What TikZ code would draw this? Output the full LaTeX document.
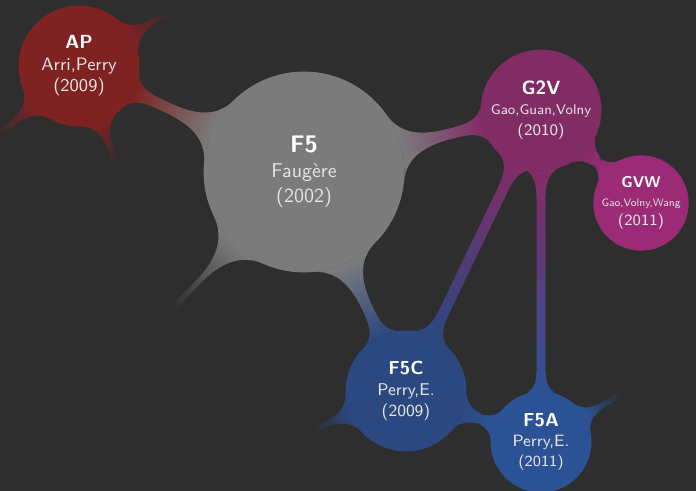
\documentclass[tikz,border=0pt]{standalone}
\usepackage{fontspec}
\usetikzlibrary{mindmap}
\renewcommand{\familydefault}{\sfdefault}

\definecolor{bgc}{HTML}{2E2E2E}
\definecolor{cFfive}{HTML}{7B7B7B}
\definecolor{cAP}{HTML}{7E2222}
\definecolor{cGtwoV}{HTML}{822C66}
\definecolor{cGVW}{HTML}{9B2B76}
\definecolor{cFC}{HTML}{2C4880}
\definecolor{cFA}{HTML}{2C5296}
\colorlet{subtext}{white!90!black}

\pgfdeclarelayer{canvas}
\pgfdeclarelayer{bars}
\pgfsetlayers{canvas,bars,main}

\tikzset{
  bubble/.style={circle, inner sep=0pt, align=center, text=white,
                 fill=#1, draw=#1, line width=0.4pt},
  % unfilled round end point that a bar fades out towards
  loose end/.style={circle, inner sep=0pt, minimum size=30pt},
  bar/.style={line width=4.5pt},
}
% title line and sub line of a bubble
\newcommand{\btitle}[2]{{\fontsize{#1}{#1}\selectfont\bfseries #2}}
\newcommand{\bline}[2]{{\color{subtext}\fontsize{#1}{#1}\selectfont #2}}

\begin{document}
\begin{tikzpicture}[x=0.5pt,y=0.5pt]
  \begin{pgfonlayer}{canvas}
    \fill[bgc] (0,0) rectangle (696,491);
  \end{pgfonlayer}
  \useasboundingbox (0,0) rectangle (696,491);

  % concepts
  \node[bubble=cFfive, minimum size=100pt, font=\fontsize{10}{12.5}\selectfont]
    (F5) at (304,319) {\btitle{12}{F5}\\\bline{10}{Faugère}\\\bline{10}{(2002)}};
  \node[bubble=cAP, minimum size=60pt, font=\fontsize{9}{10.7}\selectfont]
    (AP) at (79,425) {\btitle{9.5}{AP}\\\bline{9}{Arri,Perry}\\\bline{9}{(2009)}};
  \node[bubble=cGtwoV, minimum size=60pt, font=\fontsize{8}{10.3}\selectfont]
    (G2V) at (541,381) {\btitle{9.6}{G2V}\\\bline{7}{Gao,Guan,Volny}\\\bline{8}{(2010)}};
  \node[bubble=cGVW, minimum size=42pt, font=\fontsize{7}{9.3}\selectfont]
    (GVW) at (641,288) {\btitle{7.8}{GVW}\\\bline{5.4}{Gao,Volny,Wang}\\\bline{7.8}{(2011)}};
  \node[bubble=cFC, minimum size=60pt, font=\fontsize{8.5}{10.5}\selectfont]
    (F5C) at (406,100) {\btitle{9.4}{F5C}\\\bline{8.5}{Perry,E.}\\\bline{8.5}{(2009)}};
  \node[bubble=cFA, minimum size=50pt, font=\fontsize{8}{10}\selectfont]
    (F5A) at (541,49) {\btitle{9.4}{F5A}\\\bline{8.2}{Perry,E.}\\\bline{7.7}{(2011)}};

  % loose ends of the map
  \node[loose end] (apNE) at (193,493) {};
  \node[loose end] (apSW) at (-25,335) {};
  \node[loose end] (apS)  at (127,300) {};
  \node[loose end] (ffSW) at (153,162) {};
  \node[loose end] (fcW)  at (287,51)  {};
  \node[loose end] (faE)  at (648,113) {};

  \begin{pgfonlayer}{bars}
    \path[bar] (F5)  to[circle connection bar switch color=from (cFfive) to (cAP)]    (AP);
    \path[bar] (F5)  to[circle connection bar switch color=from (cFfive) to (cGtwoV)] (G2V);
    \path[bar] (F5)  to[circle connection bar switch color=from (cFfive) to (cFC)]    (F5C);
    \path[bar] (G2V) to[circle connection bar switch color=from (cGtwoV) to (cGVW)]   (GVW);
    \path[bar] (G2V) to[circle connection bar switch color=from (cGtwoV) to (cFC)]    (F5C);
    \path[bar] (G2V) to[circle connection bar switch color=from (cGtwoV) to (cFA)]    (F5A);
    \path[bar] (F5C) to[circle connection bar switch color=from (cFC) to (cFA)]       (F5A);
    \path[bar] (AP)  to[circle connection bar switch color=from (cAP) to (bgc)]       (apNE);
    \path[bar] (AP)  to[circle connection bar switch color=from (cAP) to (bgc)]       (apSW);
    \path[bar] (AP)  to[circle connection bar switch color=from (cAP) to (bgc)]       (apS);
    \path[bar] (F5)  to[circle connection bar switch color=from (cFfive) to (bgc)]    (ffSW);
    \path[bar] (F5C) to[circle connection bar switch color=from (cFC) to (bgc)]       (fcW);
    \path[bar] (F5A) to[circle connection bar switch color=from (cFA) to (bgc)]       (faE);
  \end{pgfonlayer}
\end{tikzpicture}
\end{document}
